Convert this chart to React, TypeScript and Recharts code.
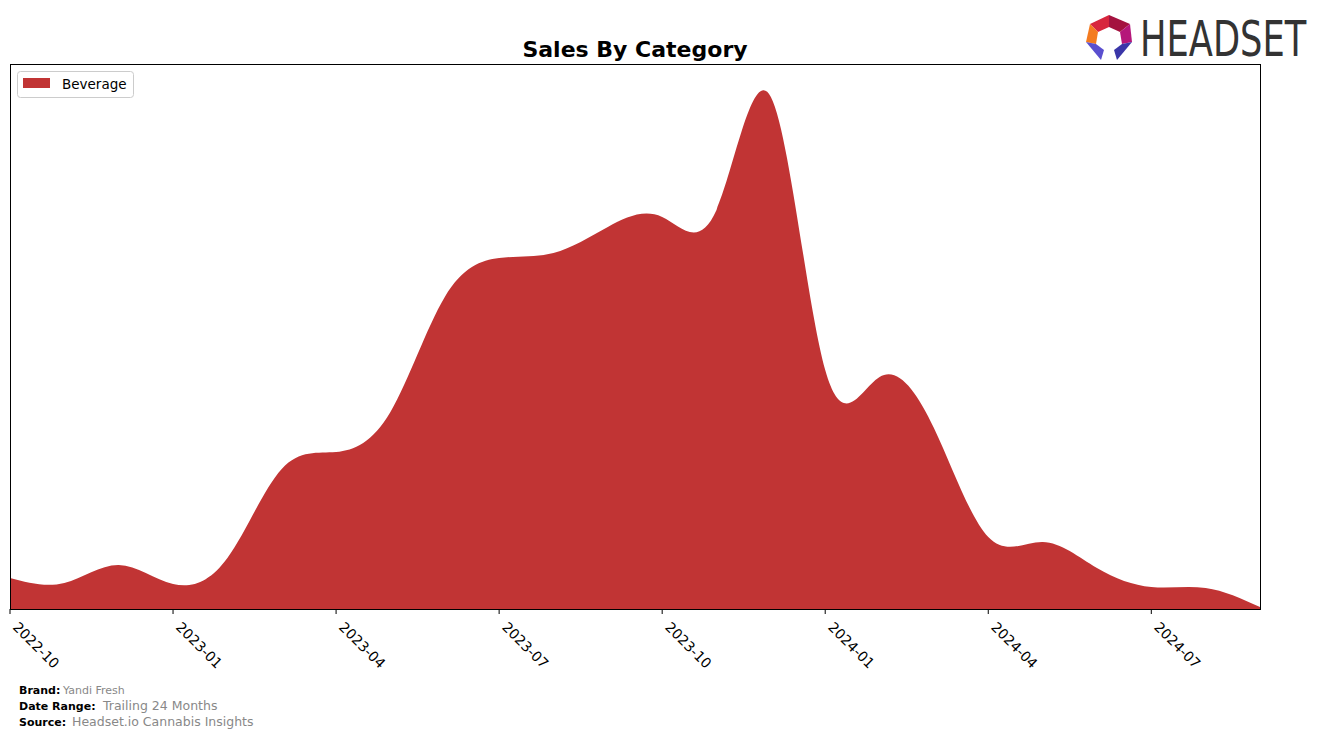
import { Area, AreaChart, XAxis, YAxis } from 'recharts';

const months = [
    "2022-10", "2022-11", "2022-12", "2023-01", "2023-02", "2023-03",
    "2023-04", "2023-05", "2023-06", "2023-07", "2023-08", "2023-09",
    "2023-10", "2023-11", "2023-12", "2024-01", "2024-02", "2024-03",
    "2024-04", "2024-05", "2024-06", "2024-07", "2024-08", "2024-09",
];

// Beverage sales (no y scale shown, values read off the plot height)
const beverage = [
    31, 26, 44, 25, 51, 140,
    157, 197, 312, 351, 356, 382,
    392, 399, 512, 239, 232, 181,
    72, 67, 41, 22, 21, 2,
];

const tickIdx = [0, 3, 6, 9, 12, 15, 18, 21];

const data = months.map((m, i) => ({ idx: i, month: m, Beverage: beverage[i] }));

const RED = "#C13434";
const FONT = "'DejaVu Sans', sans-serif";

const MonthTick = (props: any) => {
    const { x, payload } = props;
    return (
        <g transform={`translate(${x + 2},628)`}>
            <text x={0} y={0} transform="rotate(45)" textAnchor="start"
                fontSize={14} fontFamily={FONT} fill="#000">
                {months[payload.value]}
            </text>
        </g>
    );
};

const Logo = () => (
    <g>
        <polygon points="1090,24 1109,15 1109,27 1098,32" fill="#D7263D" />
        <polygon points="1109,15 1130,24 1120,32 1109,27" fill="#A4123F" />
        <polygon points="1090,24 1098,32 1096,44 1086,42" fill="#F47B20" />
        <polygon points="1130,24 1132,42 1122,44 1120,32" fill="#B5177A" />
        <polygon points="1086,42 1096,44 1104,50 1101,60" fill="#5A4FCF" />
        <polygon points="1132,42 1122,44 1114,50 1117,60" fill="#3A36A8" />
        <text transform="translate(1140,56) scale(0.72,1)" x={0} y={0}
            fontSize={49} fontFamily={FONT} fill="#333">HEADSET</text>
    </g>
);

export default function App() {
    return (
        <div style={{ position: 'relative', width: 1324, height: 738, background: '#fff' }}>
            <style>{`body{margin:0}`}</style>
            <AreaChart width={1324} height={738} data={data}
                margin={{ top: 64, right: 64, bottom: 69, left: 10 }}>
                <XAxis dataKey="idx" type="number" domain={[0, 23]} ticks={tickIdx}
                    axisLine={false} tickLine={{ stroke: '#000' }} tickSize={5}
                    height={60} interval={0} tick={<MonthTick />} />
                <YAxis hide domain={[0, 545]} />
                <Area dataKey="Beverage" type="natural" fill={RED} fillOpacity={1}
                    stroke="none" isAnimationActive={false} />
            </AreaChart>
            <div style={{
                position: 'absolute', left: 10, top: 64, width: 1251, height: 546,
                border: '1px solid #000', boxSizing: 'border-box', pointerEvents: 'none'
            }} />
            <svg width={1324} height={738} style={{ position: 'absolute', left: 0, top: 0, pointerEvents: 'none' }}>
                <text x={635} y={57} textAnchor="middle" fontSize={22} fontWeight="bold" fontFamily={FONT}>
                    Sales By Category
                </text>
                <rect x={17.5} y={71.5} width={116} height={26} rx={3} fill="#fff" stroke="#ccc" />
                <rect x={23} y={78} width={27} height={10} fill={RED} />
                <text x={62} y={89} fontSize={13.5} fontFamily={FONT}>Beverage</text>
                <Logo />
                <text x={19} y={694} fontSize={11} fontFamily={FONT}>
                    <tspan fontWeight="bold">Brand:</tspan>
                    <tspan x={63} fill="#888">Yandi Fresh</tspan>
                </text>
                <text x={19} y={710} fontSize={11} fontFamily={FONT}>
                    <tspan fontWeight="bold">Date Range:</tspan>
                    <tspan x={103} fontSize={12.5} fill="#888">Trailing 24 Months</tspan>
                </text>
                <text x={19} y={726} fontSize={11} fontFamily={FONT}>
                    <tspan fontWeight="bold">Source:</tspan>
                    <tspan x={72} fontSize={12.5} fill="#888">Headset.io Cannabis Insights</tspan>
                </text>
            </svg>
        </div>
    );
}
